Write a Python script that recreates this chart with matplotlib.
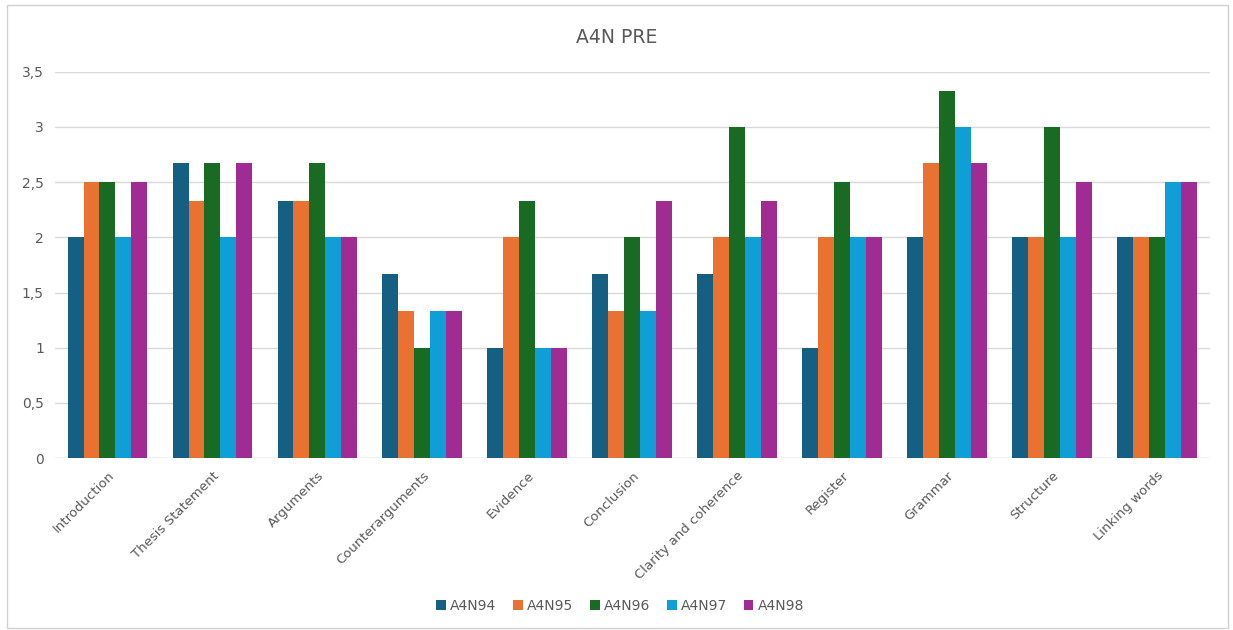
import numpy as np
import matplotlib.pyplot as plt
from matplotlib.patches import Rectangle

categories = ['Introduction', 'Thesis Statement', 'Arguments', 'Counterarguments',
              'Evidence', 'Conclusion', 'Clarity and coherence', 'Register',
              'Grammar', 'Structure', 'Linking words']
series = ['A4N94', 'A4N95', 'A4N96', 'A4N97', 'A4N98']
a4n94 = [2, 2.67, 2.33, 1.67, 1, 1.67, 1.67, 1, 2, 2, 2]
a4n95 = [2.5, 2.33, 2.33, 1.33, 2, 1.33, 2, 2, 2.67, 2, 2]
a4n96 = [2.5, 2.67, 2.67, 1, 2.33, 2, 3, 2.5, 3.33, 3, 2]
a4n97 = [2, 2, 2, 1.33, 1, 1.33, 2, 2, 3, 2, 2.5]
a4n98 = [2.5, 2.67, 2, 1.33, 1, 2.33, 2.33, 2, 2.67, 2.5, 2.5]
values = [a4n94, a4n95, a4n96, a4n97, a4n98]
colors = ['#156082', '#E97132', '#196B24', '#0F9ED5', '#A02B93']

fig = plt.figure(figsize=(12.33, 6.3), dpi=100)
ax = fig.add_axes([0.0446, 0.273, 0.9364, 0.613])

x = np.arange(len(categories))
w = 0.152
for i, (name, vals) in enumerate(zip(series, values)):
    ax.bar(x + (i - 2) * w, vals, width=w, color=colors[i], label=name, zorder=3)

ax.set_xlim(-0.5, len(categories) - 0.5)
ax.set_ylim(0, 3.5)
yt = np.arange(0, 3.51, 0.5)
ax.set_yticks(yt)
ax.set_yticklabels([('%g' % v).replace('.', ',') for v in yt], color='#595959', fontsize=10)
ax.set_xticks(x)
ax.set_xticklabels(categories, rotation=45, ha='right', rotation_mode='anchor',
                   color='#595959', fontsize=9.5)
ax.tick_params(length=0, pad=8)
ax.grid(axis='y', color='#d9d9d9', linewidth=1, zorder=0)
for s in ax.spines.values():
    s.set_visible(False)
ax.axhline(0, color='#d9d9d9', linewidth=1, zorder=2)

fig.text(0.5, 0.94, 'A4N PRE', ha='center', va='center', fontsize=13.5, color='#595959')
fig.legend(loc='center', bbox_to_anchor=(0.503, 0.038), ncol=5, frameon=False,
           fontsize=10, handlelength=0.7, handleheight=0.7, handletextpad=0.3,
           columnspacing=1.2, labelcolor='#595959')

fig.patches.append(Rectangle((7 / 1233, 2 / 630), 1221 / 1233, 623 / 630,
                             transform=fig.transFigure, fill=False,
                             edgecolor='#d0d0d0', linewidth=1))

fig.savefig('out.png', dpi=100)
